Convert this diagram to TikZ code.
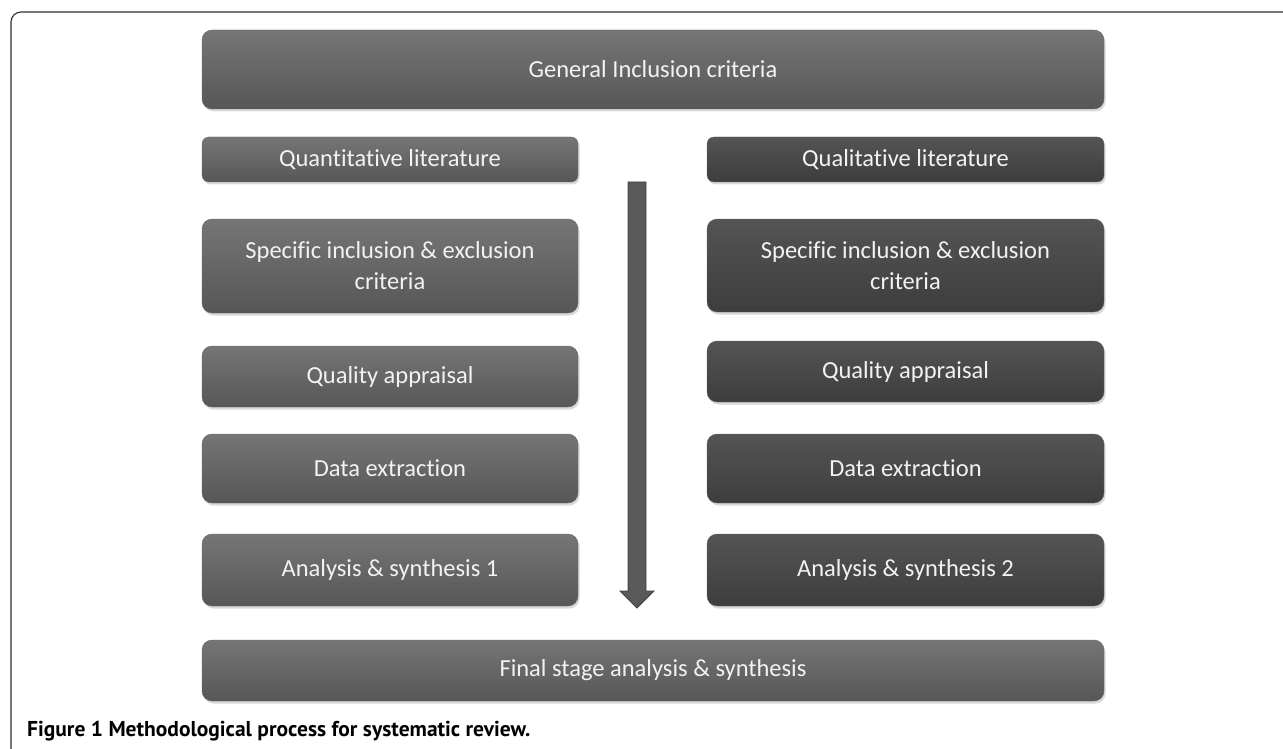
\documentclass[tikz,border=0pt]{standalone}
\usepackage{fontspec}
\setmainfont{Carlito}[Ligatures=NoCommon]
\newfontfamily\capfont{PT Sans}
\usetikzlibrary{shadows}
\definecolor{framecol}{HTML}{2E2E2E}
\definecolor{txtcol}{HTML}{F2F2F2}
\begin{document}
\begin{tikzpicture}[x=1pt,y=-1pt,
  boxbase/.style={rounded corners=10pt, text=txtcol, inner sep=0pt, outer sep=0pt,
    font=\fontsize{24.5}{31}\selectfont, align=center, anchor=north west,
    drop shadow={shadow xshift=1.5pt,shadow yshift=-2.5pt,opacity=0.3},
    draw=black!60, line width=0.4pt},
  lightbox/.style={boxbase, top color=black!54, bottom color=black!66},
  darkbox/.style={boxbase, top color=black!67, bottom color=black!76},
  bigarrow/.style={fill=black!65, draw=black!75, line width=0.8pt, line join=miter},
]
\useasboundingbox (0,0) rectangle (1283,749);
% frame
\draw[framecol, line width=1.1pt, rounded corners=10pt] (11,752) -- (11,12) -- (1286,12);

\node[lightbox, minimum width=902pt, minimum height=79pt] (gen) at (202,30) {General Inclusion criteria};

\node[lightbox, rounded corners=7pt, minimum width=376pt, minimum height=45pt] (quant) at (202,137) {Quantitative literature};
\node[darkbox, rounded corners=7pt, minimum width=397pt, minimum height=45pt] (qual) at (707,137) {Qualitative literature};

\node[lightbox, minimum width=376pt, minimum height=94pt] (specl) at (202,219) {Specific inclusion \& exclusion\\criteria};
\node[darkbox, minimum width=397pt, minimum height=93pt] (specr) at (707,219) {Specific inclusion \& exclusion\\criteria};

\node[lightbox, minimum width=376pt, minimum height=61pt] (quall) at (202,346) {Quality appraisal};
\node[darkbox, minimum width=397pt, minimum height=61pt] (qualr) at (707,341) {Quality appraisal};

\node[lightbox, minimum width=376pt, minimum height=69pt] (datal) at (202,434) {Data extraction};
\node[darkbox, minimum width=397pt, minimum height=69pt] (datar) at (707,434) {Data extraction};

\node[lightbox, minimum width=376pt, minimum height=72pt] (anal) at (202,534) {Analysis \& synthesis 1};
\node[darkbox, minimum width=397pt, minimum height=72pt] (anar) at (707,534) {Analysis \& synthesis 2};

\node[lightbox, minimum width=902pt, minimum height=61pt] (final) at (202,640) {Final stage analysis \& synthesis};

% process arrow
\coordinate (atop) at (637,182);
\coordinate (atip) at (637,608);
\draw[bigarrow] (628,182) -- (646,182) -- (646,591) -- (654,591) -- (atip) -- (620,591) -- (628,591) -- cycle;

\node[anchor=base west, inner sep=0pt, font=\capfont\bfseries\fontsize{21.5}{24}\selectfont] (cap) at (27,736) {Figure 1 Methodological process for systematic review.};
\end{tikzpicture}
\end{document}
